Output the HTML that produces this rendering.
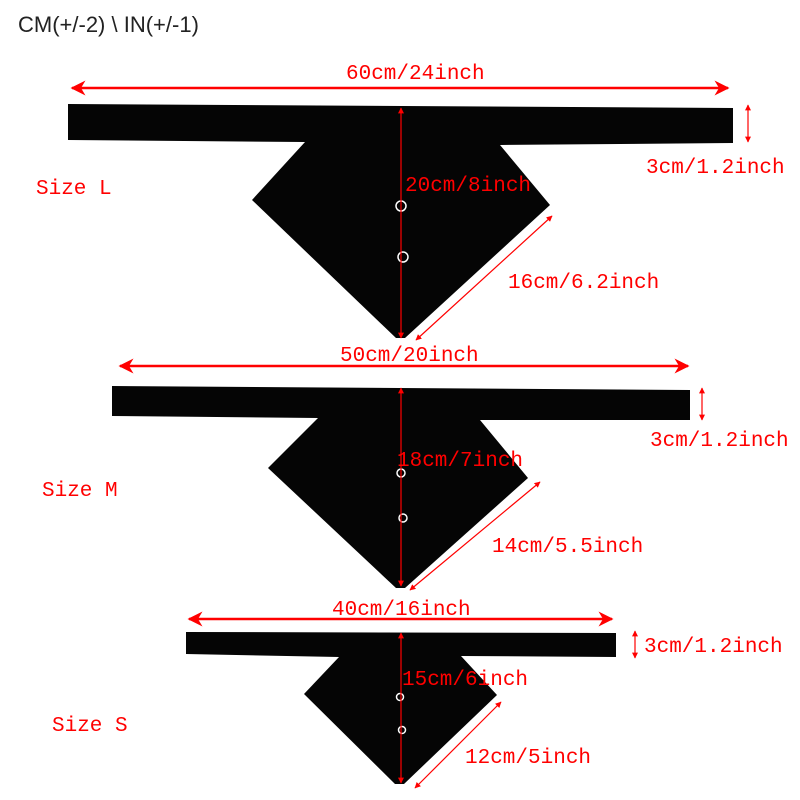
<!DOCTYPE html>
<html><head><style>body{margin:0;background:#fff}svg{display:block}</style></head><body>
<svg width="800" height="800" viewBox="0 0 800 800" xmlns="http://www.w3.org/2000/svg">
<defs>
<marker id="a" viewBox="0 0 10 10" refX="9" refY="5" markerWidth="8" markerHeight="6" orient="auto-start-reverse"><path d="M0,0L10,5L0,10L3,5z" fill="#f00"/></marker>
<marker id="b" viewBox="0 0 10 10" refX="9" refY="5" markerWidth="5" markerHeight="5" orient="auto-start-reverse"><path d="M0,0L10,5L0,10z" fill="#f00"/></marker>
</defs>
<text x="18" y="32" font-family="Liberation Sans, sans-serif" font-size="22" fill="#222">CM(+/-2) \ IN(+/-1)</text>
<g fill="#050505">
<path d="M68,104L733,108L733,143L500,145L550,205L405,338L396,338L252,200L305,142L68,140z"/>
<path d="M112,386L690,390L690,420L480,420L528,478L405,588L396,588L268,468L318,418L112,416z"/>
<path d="M186,632L616,633L616,657L461,656L497,695L404,784L395,784L304,694L339,657L186,654z"/>
</g>
<g fill="none" stroke="#fff" stroke-width="1.5">
<circle cx="401" cy="206" r="5"/><circle cx="403" cy="257" r="5"/>
<circle cx="401" cy="473" r="4"/><circle cx="403" cy="518" r="4"/>
<circle cx="400" cy="697" r="3.5"/><circle cx="402" cy="730" r="3.5"/>
</g>
<g stroke="#f00" fill="none">
<line x1="72" y1="88" x2="728" y2="88" stroke-width="2.5" marker-start="url(#a)" marker-end="url(#a)"/>
<line x1="120" y1="366" x2="688" y2="366" stroke-width="2.5" marker-start="url(#a)" marker-end="url(#a)"/>
<line x1="189" y1="619" x2="612" y2="619" stroke-width="2.5" marker-start="url(#a)" marker-end="url(#a)"/>
<line x1="401" y1="108" x2="401" y2="338" stroke-width="1.2" marker-start="url(#b)" marker-end="url(#b)"/>
<line x1="401" y1="388" x2="401" y2="586" stroke-width="1.2" marker-start="url(#b)" marker-end="url(#b)"/>
<line x1="401" y1="633" x2="401" y2="783" stroke-width="1.2" marker-start="url(#b)" marker-end="url(#b)"/>
<line x1="748" y1="105" x2="748" y2="142" stroke-width="1.2" marker-start="url(#b)" marker-end="url(#b)"/>
<line x1="702" y1="388" x2="702" y2="420" stroke-width="1.2" marker-start="url(#b)" marker-end="url(#b)"/>
<line x1="635" y1="631" x2="635" y2="658" stroke-width="1.2" marker-start="url(#b)" marker-end="url(#b)"/>
<line x1="552" y1="216" x2="416" y2="340" stroke-width="1.2" marker-start="url(#b)" marker-end="url(#b)"/>
<line x1="540" y1="482" x2="410" y2="590" stroke-width="1.2" marker-start="url(#b)" marker-end="url(#b)"/>
<line x1="501" y1="702" x2="415" y2="788" stroke-width="1.2" marker-start="url(#b)" marker-end="url(#b)"/>
</g>
<g fill="#f00" font-family="Liberation Mono, monospace" font-size="21">
<text x="346" y="79">60cm/24inch</text>
<text x="646" y="173">3cm/1.2inch</text>
<text x="36" y="194">Size L</text>
<text x="405" y="191">20cm/8inch</text>
<text x="508" y="288">16cm/6.2inch</text>
<text x="340" y="361">50cm/20inch</text>
<text x="650" y="446">3cm/1.2inch</text>
<text x="42" y="496">Size M</text>
<text x="397" y="466">18cm/7inch</text>
<text x="492" y="552">14cm/5.5inch</text>
<text x="332" y="615">40cm/16inch</text>
<text x="644" y="652">3cm/1.2inch</text>
<text x="52" y="731">Size S</text>
<text x="402" y="685">15cm/6inch</text>
<text x="465" y="763">12cm/5inch</text>
</g>
</svg>
</body></html>
